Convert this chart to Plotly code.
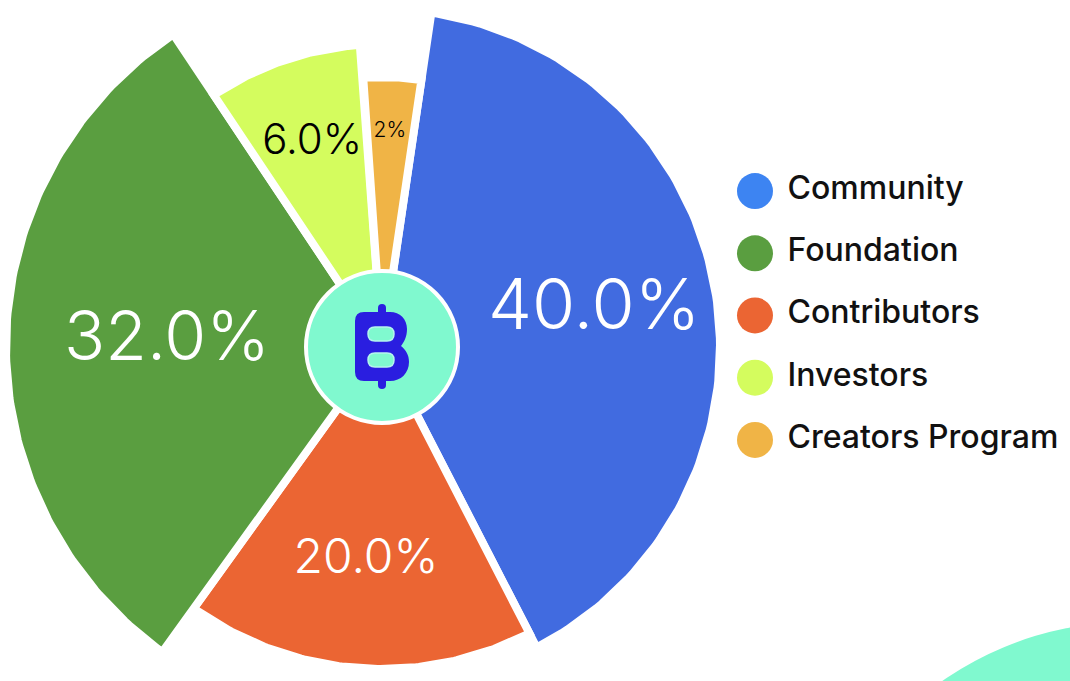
import numpy as np
import plotly.graph_objects as go

# slices in legend order
names = ["Community", "Foundation", "Contributors", "Investors", "Creators Program"]
label_text = ["40.0%", "32.0%", "20.0%", "6.0%", "2%"]
# angular share of each slice as drawn in the picture (percent of the circle)
arc_share = [40.1, 30.7, 17.5, 8.2, 3.5]
# outer reach of each slice, px from the hub centre
slice_reach = [334, 372, 318, 299, 266]
# clockwise drawing order starting just right of twelve o'clock
draw_order = ["Community", "Contributors", "Foundation", "Investors", "Creators Program"]

slice_colors = ["#416be0", "#5a9e40", "#eb6533", "#d4fc5e", "#f0b446"]
legend_colors = ["#3d84f2", "#5a9e40", "#eb6533", "#d4fc5e", "#f0b446"]
label_colors = ["white", "white", "white", "black", "black"]
label_sizes = [70, 68, 48, 42, 21]

W, H = 1070, 681
CX, CY = 382, 347          # hub centre in page pixels
START = 8.4                # degrees clockwise from top
GAP = 8
LABEL_R = 215

fig = go.Figure()

share_total = float(sum(arc_share))
angle = START
lab_x, lab_y, lab_t, lab_c, lab_s = [], [], [], [], []
for name in draw_order:
    i = names.index(name)
    sweep = arc_share[i] / share_total * 360.0
    t = np.deg2rad(np.linspace(angle, angle + sweep, 120))
    r = slice_reach[i] + GAP / 2
    xs = np.concatenate([[0], r * np.sin(t), [0]])
    ys = np.concatenate([[0], r * np.cos(t), [0]])
    fig.add_trace(
        go.Scatter(
            x=xs, y=ys, mode="lines", fill="toself",
            fillcolor=slice_colors[i],
            line=dict(color="white", width=GAP),
            hoverinfo="skip", showlegend=False,
        )
    )
    mid = np.deg2rad(angle + sweep / 2)
    lab_x.append(LABEL_R * np.sin(mid))
    lab_y.append(LABEL_R * np.cos(mid))
    lab_t.append(label_text[i])
    lab_c.append(label_colors[i])
    lab_s.append(label_sizes[i])
    angle += sweep

fig.add_trace(
    go.Scatter(
        x=lab_x, y=lab_y, mode="text", text=lab_t,
        textfont=dict(family="Inter", size=lab_s, color=lab_c, weight=300),
        hoverinfo="skip", showlegend=False,
    )
)

# custom legend on its own small axes
fig.add_trace(
    go.Scatter(
        x=[0.08] * len(names), y=names, mode="markers",
        marker=dict(size=36, color=legend_colors, line=dict(width=0)),
        xaxis="x2", yaxis="y2", hoverinfo="skip", showlegend=False,
    )
)
fig.add_trace(
    go.Scatter(
        x=[0.175] * len(names), y=names, mode="text", text=names,
        textposition="middle right",
        textfont=dict(family="Inter", size=32, color="#111111", weight=500),
        xaxis="x2", yaxis="y2", hoverinfo="skip", showlegend=False,
    )
)

teal = "#80f9cf"
icon_blue = "#2a1ee0"
shapes = [
    # decorative blob bottom right
    dict(type="circle", xref="x", yref="y", x0=748 - 328, x1=748 + 328,
         y0=-603 - 328, y1=-603 + 328, fillcolor=teal, line=dict(width=0), layer="below"),
    # hub
    dict(type="circle", xref="x", yref="y", x0=-76, x1=76, y0=-76, y1=76,
         fillcolor=teal, line=dict(color="white", width=4), layer="above"),
    # coin glyph body
    dict(type="path", xref="x", yref="y", layer="above", fillcolor=icon_blue,
         line=dict(width=0),
         path=("M -18,35 L 8,35 C 18,35 25,28 25,18 C 25,10 22,5 19,1 "
               "C 24,-3 27,-8 27,-15 C 27,-26 19,-34 8,-34 L -18,-34 "
               "Q -27,-34 -27,-25 L -27,26 Q -27,35 -18,35 Z")),
    # top and bottom ticks
    dict(type="path", xref="x", yref="y", layer="above", fillcolor=icon_blue,
         line=dict(width=0),
         path="M -4,30 L -4,39 Q -4,43 0,43 Q 4,43 4,39 L 4,30 Z"),
    dict(type="path", xref="x", yref="y", layer="above", fillcolor=icon_blue,
         line=dict(width=0),
         path="M -4,-29 L -4,-38 Q -4,-42 0,-42 Q 4,-42 4,-38 L 4,-29 Z"),
    # slots
    dict(type="path", xref="x", yref="y", layer="above", fillcolor=teal,
         line=dict(color="#b5f3ee", width=1.5),
         path="M -7,20 L 5,20 Q 12,20 12,13 Q 12,6 5,6 L -7,6 Q -14,6 -14,13 Q -14,20 -7,20 Z"),
    dict(type="path", xref="x", yref="y", layer="above", fillcolor=teal,
         line=dict(color="#b5f3ee", width=1.5),
         path="M -7,-6 L 5,-6 Q 12,-6 12,-13 Q 12,-20 5,-20 L -7,-20 Q -14,-20 -14,-13 Q -14,-6 -7,-6 Z"),
]

hidden = dict(visible=False, showgrid=False, zeroline=False, fixedrange=True)
fig.update_layout(
    width=W, height=H,
    margin=dict(l=0, r=0, t=0, b=0),
    paper_bgcolor="white", plot_bgcolor="white",
    xaxis=dict(range=[-CX, W - CX], domain=[0, 1], **hidden),
    yaxis=dict(range=[-(H - CY), CY], domain=[0, 1], **hidden),
    xaxis2=dict(range=[0, 1], domain=[0.68, 1], anchor="y2", **hidden),
    yaxis2=dict(type="category", categoryorder="array", categoryarray=names,
                range=[len(names) - 0.5, -0.5], domain=[0.3084, 0.7651],
                anchor="x2", **hidden),
    shapes=shapes,
    showlegend=False,
)

# the page body has a default 8px margin; drop it so the chart sits at the window edge
fig.write_html(
    "out.html",
    config={"displayModeBar": False},
    post_script="document.body.style.margin='0';",
)
